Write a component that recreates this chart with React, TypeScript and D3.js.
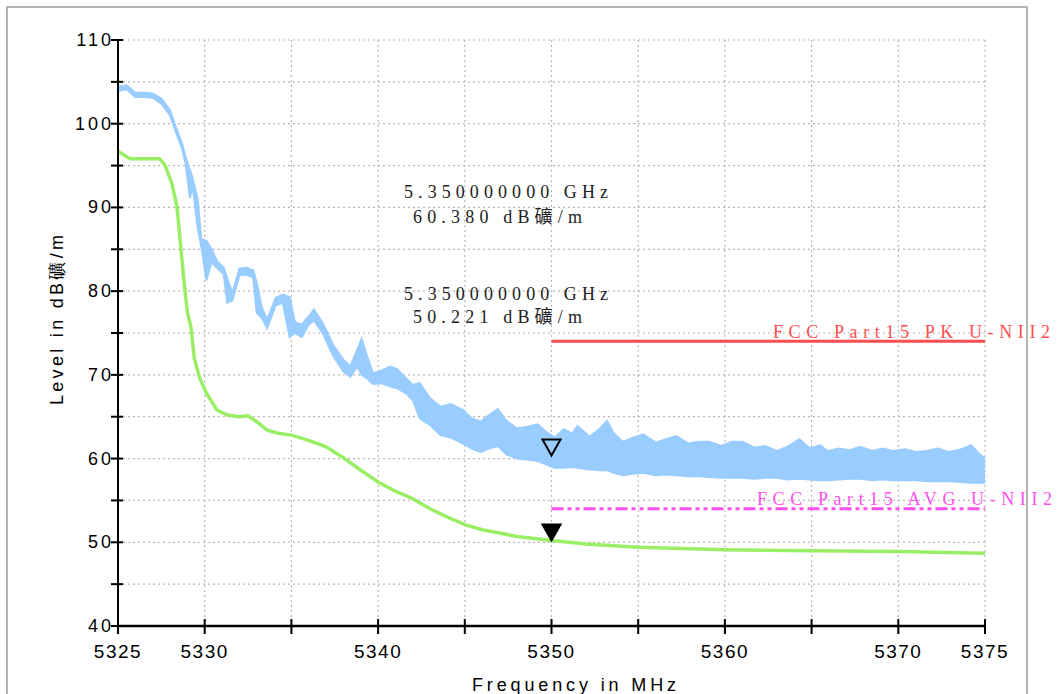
import React from 'react';
import * as d3 from 'd3';

// peak trace envelope: [MHz, upper dB, lower dB]
const peakBand: [number, number, number][] = [
    [5325.0, 104.4, 103.9], [5325.5, 104.6, 104.1], [5326.0, 103.7, 103.2], [5326.5, 103.7, 103.2],
    [5327.0, 103.6, 103.1], [5327.5, 103.0, 102.4], [5328.0, 101.6, 101.0], [5328.3, 99.8, 99.2],
    [5328.7, 97.6, 97.0], [5328.9, 96.0, 95.2], [5329.15, 94.5, 91.1], [5329.3, 93.5, 92.6],
    [5329.6, 91.0, 87.5], [5329.8, 86.2, 85.4], [5330.1, 86.0, 81.3], [5330.4, 85.0, 83.5],
    [5330.7, 83.6, 82.8], [5331.1, 82.8, 82.0], [5331.3, 81.5, 78.6], [5331.6, 79.8, 78.9],
    [5332.0, 82.7, 81.9], [5332.4, 82.8, 82.0], [5332.8, 82.5, 81.6], [5333.0, 81.0, 77.4],
    [5333.3, 78.0, 76.8], [5333.6, 76.6, 75.6], [5334.1, 79.2, 78.3], [5334.5, 79.6, 78.6],
    [5334.9, 79.3, 74.5], [5335.2, 76.3, 75.0], [5335.6, 76.0, 74.5], [5336.0, 77.0, 76.0],
    [5336.3, 77.8, 76.5], [5336.8, 76.2, 75.0], [5337.4, 73.6, 72.3], [5338.0, 71.8, 70.4],
    [5338.4, 71.0, 69.8], [5338.8, 73.0, 71.0], [5339.05, 74.3, 70.0], [5339.4, 72.0, 69.5],
    [5339.7, 70.2, 68.9], [5340.2, 70.5, 69.0], [5340.7, 71.0, 68.6], [5341.1, 70.7, 68.4],
    [5341.6, 69.6, 67.8], [5342.0, 68.8, 67.0], [5342.4, 69.0, 64.8], [5343.0, 67.2, 64.0],
    [5343.6, 66.2, 62.8], [5344.2, 66.5, 62.5], [5344.9, 65.8, 61.8], [5345.4, 64.8, 61.2],
    [5345.9, 64.4, 60.8], [5346.4, 65.2, 61.2], [5346.9, 65.9, 61.5], [5347.4, 64.5, 60.5],
    [5348.0, 63.6, 60.0], [5348.6, 63.8, 59.9], [5349.2, 64.1, 59.7], [5349.8, 63.0, 59.2],
    [5350.2, 62.5, 58.9], [5350.7, 63.5, 58.9], [5351.2, 63.0, 59.0], [5351.5, 63.9, 58.9],
    [5352.2, 62.6, 58.7], [5352.8, 63.6, 58.6], [5353.2, 64.5, 58.6], [5353.6, 63.0, 58.3],
    [5354.1, 62.0, 58.0], [5354.7, 62.5, 58.2], [5355.3, 62.9, 58.3], [5356.0, 61.9, 58.0],
    [5356.6, 62.3, 58.1], [5357.2, 62.7, 58.0], [5357.9, 61.8, 57.9], [5358.5, 62.0, 57.9],
    [5359.1, 62.0, 57.8], [5359.8, 61.5, 57.7], [5360.4, 62.0, 57.7], [5361.0, 62.0, 57.7],
    [5361.7, 61.3, 57.6], [5362.3, 61.5, 57.7], [5363.0, 60.9, 57.7], [5363.6, 61.4, 57.5],
    [5364.3, 62.3, 57.6], [5364.9, 61.2, 57.5], [5365.5, 61.6, 57.4], [5365.9, 60.9, 57.4],
    [5366.6, 61.2, 57.5], [5367.2, 61.0, 57.6], [5367.8, 61.4, 57.6], [5368.5, 60.9, 57.4],
    [5369.1, 61.2, 57.5], [5369.7, 60.9, 57.4], [5370.4, 61.1, 57.4], [5371.0, 60.8, 57.4],
    [5371.6, 60.9, 57.3], [5372.3, 61.2, 57.3], [5372.9, 60.8, 57.3], [5373.6, 61.1, 57.2],
    [5374.2, 61.6, 57.1], [5374.6, 60.7, 57.1], [5375.0, 60.0, 57.1],
];

// average trace: [MHz, dB]
const avgTrace: [number, number][] = [
    [5325.0, 96.7], [5325.7, 95.8], [5326.5, 95.8], [5327.4, 95.8], [5327.7, 95.1],
    [5328.1, 92.9], [5328.4, 90.1], [5328.6, 85.7], [5328.8, 81.3], [5329.0, 77.5],
    [5329.2, 75.8], [5329.4, 72.0], [5329.7, 69.7], [5330.1, 67.8], [5330.7, 65.8],
    [5331.3, 65.2], [5332.0, 65.0], [5332.5, 65.1], [5333.0, 64.4], [5333.6, 63.4],
    [5334.3, 63.0], [5335.0, 62.8], [5335.8, 62.3], [5336.5, 61.8], [5337.0, 61.4],
    [5338.0, 60.1], [5339.0, 58.6], [5340.0, 57.2], [5341.0, 56.1], [5342.0, 55.2],
    [5343.0, 54.0], [5344.0, 53.0], [5345.0, 52.1], [5346.0, 51.5], [5347.0, 51.1],
    [5348.0, 50.7], [5350.0, 50.2], [5352.0, 49.8], [5355.0, 49.4], [5360.0, 49.1],
    [5365.0, 49.0], [5370.0, 48.9], [5375.0, 48.7],
];

const xTickValues = [5325, 5330, 5335, 5340, 5345, 5350, 5355, 5360, 5365, 5370, 5375];
const xTickLabels = [5325, 5330, 5340, 5350, 5360, 5370, 5375];
const yTickValues = [40, 45, 50, 55, 60, 65, 70, 75, 80, 85, 90, 95, 100, 105, 110];
const yTickLabels = [40, 50, 60, 70, 80, 90, 100, 110];

const limits = [
    { name: 'FCC Part15 PK U-NII2', from: 5350, to: 5375, level: 74, color: '#ff4d4d', dash: '' },
    { name: 'FCC Part15 AVG U-NII2', from: 5350, to: 5375, level: 54, color: '#ff4fee', dash: '12,4,4,4,4,4' },
];

const markers = [
    { freq: 5350, level: 60.38, filled: false, text1: '5.350000000 GHz', text2: '60.380 dB礦/m' },
    { freq: 5350, level: 50.221, filled: true, text1: '5.350000000 GHz', text2: '50.221 dB礦/m' },
];

const W = 1058;
const H = 694;
const serif = "'Liberation Serif', 'Noto Sans CJK SC', serif";
const sans = "'Liberation Sans', Arial, sans-serif";
const narrow = "'Liberation Sans Narrow', 'Liberation Sans', sans-serif";

const App: React.FC = () => {
    const x = d3.scaleLinear().domain([5325, 5375]).range([118, 985]);
    const y = d3.scaleLinear().domain([40, 110]).range([626, 40]);

    const band = d3.area<[number, number, number]>()
        .x(d => x(d[0]))
        .y0(d => y(d[2]))
        .y1(d => y(d[1]));
    const upper = d3.line<[number, number, number]>().x(d => x(d[0])).y(d => y(d[1]));
    const lower = d3.line<[number, number, number]>().x(d => x(d[0])).y(d => y(d[2]));
    const avgLine = d3.line<[number, number]>().x(d => x(d[0])).y(d => y(d[1]));

    const [x0, x1] = x.range();
    const [yb, yt] = y.range();

    return (
        <div style={{ position: 'fixed', left: 0, top: 0 }}>
            <svg width={W} height={H} style={{ display: 'block', background: '#fff' }}>
                {/* outer frame */}
                <rect x={7} y={7} width={1020} height={H + 10} fill="none" stroke="#b4b4b4" strokeWidth={2} />

                {/* grid */}
                <g stroke="#b8b8b8" strokeWidth={1.2} strokeDasharray="2,3">
                    {yTickValues.filter(v => v > 40).map(v => (
                        <line key={'gy' + v} x1={x0} x2={x1} y1={y(v)} y2={y(v)} />
                    ))}
                    {xTickValues.filter(v => v > 5325).map(v => (
                        <line key={'gx' + v} x1={x(v)} x2={x(v)} y1={yt} y2={yb} />
                    ))}
                </g>

                {/* limit lines */}
                {limits.map(l => (
                    <line key={l.name} x1={x(l.from)} x2={x(l.to)} y1={y(l.level)} y2={y(l.level)}
                        stroke={l.color} strokeWidth={3} strokeDasharray={l.dash || undefined} />
                ))}

                {/* peak trace */}
                <path d={band(peakBand) ?? ''} fill="#99ccff" />
                <path d={upper(peakBand) ?? ''} fill="none" stroke="#99ccff" strokeWidth={2} />
                <path d={lower(peakBand) ?? ''} fill="none" stroke="#99ccff" strokeWidth={2} />

                {/* average trace */}
                <path d={avgLine(avgTrace) ?? ''} fill="none" stroke="#99ee66" strokeWidth={3.5} />

                {/* markers */}
                {markers.map((m, i) => {
                    const px = x(m.freq);
                    const py = y(m.level);
                    return (
                        <path key={'m' + i}
                            d={`M${px - 9},${py - 16}L${px + 9},${py - 16}L${px},${py}Z`}
                            fill={m.filled ? '#000' : 'none'} stroke="#000" strokeWidth={2} strokeLinejoin="miter" />
                    );
                })}

                {/* marker readouts */}
                <g fontFamily={serif} fontSize={18} fill="#222">
                    <text x={404} y={198} textLength={204} lengthAdjust="spacing">{markers[0].text1}</text>
                    <text x={413} y={223} textLength={169} lengthAdjust="spacing">{markers[0].text2}</text>
                    <text x={404} y={300} textLength={204} lengthAdjust="spacing">{markers[1].text1}</text>
                    <text x={413} y={323} textLength={169} lengthAdjust="spacing">{markers[1].text2}</text>
                </g>

                {/* limit labels */}
                <text x={773} y={338} fontFamily={serif} fontSize={18} fill={limits[0].color}
                    textLength={277} lengthAdjust="spacing">{limits[0].name}</text>
                <text x={757} y={505} fontFamily={serif} fontSize={18} fill={limits[1].color}
                    textLength={295} lengthAdjust="spacing">{limits[1].name}</text>

                {/* axes */}
                <line x1={x0} x2={x0} y1={yt} y2={yb} stroke="#000" strokeWidth={2} />
                <line x1={x0} x2={x1} y1={yb} y2={yb} stroke="#000" strokeWidth={2.5} />
                <g stroke="#000" strokeWidth={2}>
                    {yTickValues.map(v => (
                        <line key={'ty' + v} x1={x0 - 7} x2={x0 + 5} y1={y(v)} y2={y(v)} />
                    ))}
                    {xTickValues.map(v => (
                        <line key={'tx' + v} x1={x(v)} x2={x(v)} y1={yb - 7} y2={yb + 8} />
                    ))}
                </g>

                <g fontFamily={sans} fontSize={18} fill="#000" textAnchor="end" letterSpacing={3}>
                    {yTickLabels.map(v => (
                        <text key={'ly' + v} x={x0 - 4} y={y(v) + 6}>{v}</text>
                    ))}
                </g>
                <g fontFamily={narrow} fontSize={19} fill="#000" textAnchor="middle" letterSpacing={1.5}>
                    {xTickLabels.map(v => (
                        <text key={'lx' + v} x={x(v)} y={658}>{v}</text>
                    ))}
                </g>

                {/* axis titles */}
                <text x={472} y={691} fontFamily={sans} fontSize={18} textLength={204} lengthAdjust="spacing">
                    Frequency in MHz
                </text>
                <text transform="translate(63,405) rotate(-90)" fontFamily={sans} fontSize={18}
                    textLength={170} lengthAdjust="spacing">
                    Level in dB礦/m
                </text>
            </svg>
        </div>
    );
};

export default App;
